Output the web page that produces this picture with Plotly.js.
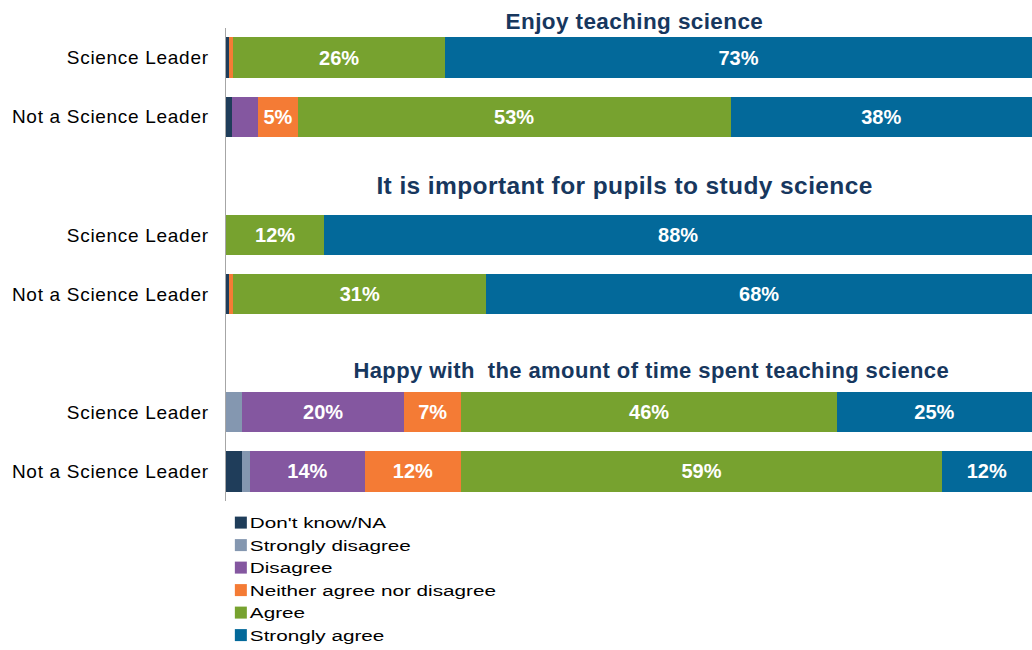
<!DOCTYPE html>
<html>
<head>
<meta charset="utf-8">
<script src="https://cdn.plot.ly/plotly-3.0.1.min.js"></script>
<style>
html,body{margin:0;padding:0;background:#fff}
#chart{width:1032px;height:650px}
#chart .ytick text{letter-spacing:0.7px}
#chart .annotation-text{letter-spacing:0.4px}
#chart .legend .scrollbox{clip-path:none !important}
#chart .legendtext{transform:translateX(-11px) scaleX(1.38);transform-box:fill-box;transform-origin:left center}
</style>
</head>
<body>
<div id="chart"></div>
<script>
// Row slots (0,1 = first statement; 3,4 = second; 6,7 = third)
const rowPos = [0, 1, 3, 4, 6, 7];
const rowLabels = ["Science Leader", "Not a Science Leader", "Science Leader", "Not a Science Leader", "Science Leader", "Not a Science Leader"];
const sectionTitles = ["Enjoy teaching science", "It is important for pupils to study science", "Happy with\u00a0 the amount of time spent teaching science"];

const seriesNames = ["Don't know/NA", "Strongly disagree", "Disagree", "Neither agree nor disagree", "Agree", "Strongly agree"];
const seriesColors = ["#1F3D5A", "#8497B0", "#8457A0", "#F47B35", "#77A22F", "#03699A"];

const dontKnow        = [0.4, 0.7, 0,    0.4,  0,    2.0];
const stronglyDisagree= [0,   0,   0,    0,    2.0,  1.0];
const disagree        = [0,   3.3, 0,    0,    20.1, 14.2];
const neither         = [0.5, 4.9, 0,    0.5,  7.1,  12.0];
const agree           = [26.3,53.7,12.2, 31.4, 46.6, 59.6];
const stronglyAgree   = [72.8,37.4,87.8, 67.7, 24.2, 11.2];

const dontKnowLbl        = ["", "", "", "", "", ""];
const stronglyDisagreeLbl= ["", "", "", "", "", ""];
const disagreeLbl        = ["", "", "", "", "20%", "14%"];
const neitherLbl         = ["", "5%", "", "", "7%", "12%"];
const agreeLbl           = ["26%", "53%", "12%", "31%", "46%", "59%"];
const stronglyAgreeLbl   = ["73%", "38%", "88%", "68%", "25%", "12%"];

const values = [dontKnow, stronglyDisagree, disagree, neither, agree, stronglyAgree];
const labels = [dontKnowLbl, stronglyDisagreeLbl, disagreeLbl, neitherLbl, agreeLbl, stronglyAgreeLbl];

const FONT = "Liberation Sans, Arial, sans-serif";

const traces = seriesNames.map((name, i) => ({
  type: "bar",
  orientation: "h",
  name: name,
  x: values[i],
  y: rowPos,
  text: labels[i],
  textposition: "inside",
  insidetextanchor: "middle",
  textangle: 0,
  constraintext: "none",
  texttemplate: "%{text}",
  textfont: {family: FONT, size: 20, color: "#FFFFFF", weight: "bold"},
  marker: {color: seriesColors[i], line: {width: 0}},
  hoverinfo: "skip"
}));

const titleY = [1.0142, 0.667, 0.2763];
const titleX = [0.507, 0.495, 0.528];
const titleSize = [22.5, 24.5, 22];
const annotations = sectionTitles.map((t, i) => ({
  text: "<b>" + t + "</b>",
  xref: "paper", yref: "paper",
  x: titleX[i], y: titleY[i],
  showarrow: false,
  xanchor: "center", yanchor: "middle",
  font: {family: FONT, size: titleSize[i], color: "#17375E"}
}));

const layout = {
  width: 1032, height: 650,
  margin: {l: 226, r: 0, t: 27.7, b: 149.3, pad: 0, autoexpand: false},
  paper_bgcolor: "#FFFFFF",
  plot_bgcolor: "#FFFFFF",
  barmode: "stack",
  bargap: 0.32,
  showlegend: true,
  legend: {
    xref: "container", yref: "container",
    x: 0.214, y: 0.221, xanchor: "left", yanchor: "top",
    traceorder: "normal",
    font: {family: FONT, size: 15, color: "#000000"},
    itemwidth: 30,
    tracegroupgap: 0,
    bgcolor: "rgba(0,0,0,0)"
  },
  xaxis: {
    range: [0, 100], visible: false, fixedrange: true, automargin: false
  },
  yaxis: {
    range: [7.5, -0.5],
    automargin: false,
    tickmode: "array",
    tickvals: rowPos,
    ticktext: rowLabels,
    ticks: "",
    ticklabelstandoff: 12,
    showgrid: false, zeroline: false,
    showline: true, linecolor: "#A6A6A6", linewidth: 1.5,
    tickfont: {family: FONT, size: 19, color: "#000000"}
  },
  yaxis2: {
    overlaying: "y", side: "left", anchor: "x",
    automargin: false,
    range: [7.5, -0.5],
    tickmode: "array",
    tickvals: [-0.5, 0.5, 1.5, 2.5, 3.5, 4.5, 5.5, 6.5, 7.5],
    showticklabels: false,
    ticks: "outside", ticklen: 7, tickcolor: "#A6A6A6", tickwidth: 1.5,
    showgrid: false, zeroline: false, showline: false
  },
  annotations: annotations
};

Plotly.newPlot("chart", traces, layout, {displayModeBar: false, staticPlot: true});
</script>
</body>
</html>
